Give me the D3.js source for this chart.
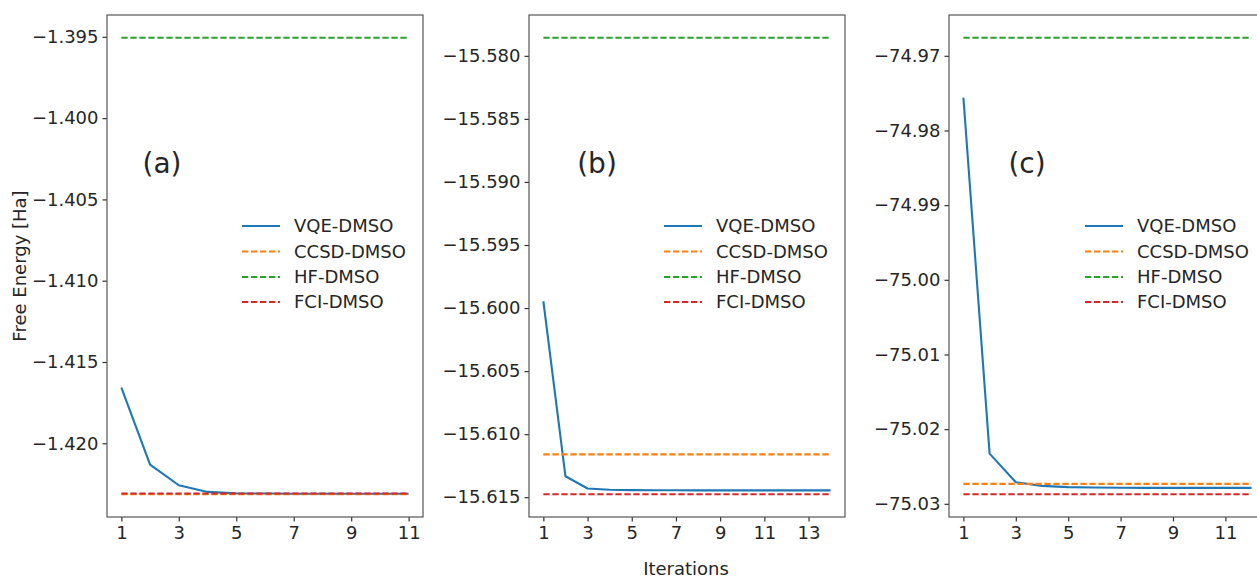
<!DOCTYPE html>
<html>
<head>
<meta charset="utf-8">
<script src="https://cdn.jsdelivr.net/npm/d3@7"></script>
<style>
  html, body { margin: 0; padding: 0; background: #fff; }
  svg { display: block; }
  text { font-family: "DejaVu Sans", sans-serif; fill: #262626; }
</style>
</head>
<body>
<svg id="chart" width="1257" height="578"></svg>
<script>
// ---------- data ----------
const seriesNames = ["VQE-DMSO", "CCSD-DMSO", "HF-DMSO", "FCI-DMSO"];
const seriesColors = ["#1f77b4", "#ff7f0e", "#2ca02c", "#d62728"];
const panelLabels = ["(a)", "(b)", "(c)"];

// panel (a)
const vqeA = [-1.41658, -1.42131, -1.42258, -1.42299, -1.42308, -1.42309, -1.42310, -1.42310, -1.42310, -1.42310, -1.42310];
const ccsdA = -1.42313;
const hfA = -1.39506;
const fciA = -1.42309;
const yTicksA = [-1.395, -1.400, -1.405, -1.410, -1.415, -1.420];
const xTicksA = [1, 3, 5, 7, 9, 11];

// panel (b)
const vqeB = [-15.59946, -15.61334, -15.61431, -15.61441, -15.61444, -15.61445, -15.61445, -15.61446, -15.61446, -15.61446, -15.61446, -15.61446, -15.61446, -15.61446];
const ccsdB = -15.61160;
const hfB = -15.57857;
const fciB = -15.61476;
const yTicksB = [-15.580, -15.585, -15.590, -15.595, -15.600, -15.605, -15.610, -15.615];
const xTicksB = [1, 3, 5, 7, 9, 11, 13];

// panel (c)
const vqeC = [-74.97561, -75.02328, -75.02711, -75.02760, -75.02777, -75.02782, -75.02785, -75.02786, -75.02786, -75.02786, -75.02786, -75.02786];
const ccsdC = -75.02733;
const hfC = -74.96759;
const fciC = -75.02871;
const yTicksC = [-74.97, -74.98, -74.99, -75.00, -75.01, -75.02, -75.03];
const xTicksC = [1, 3, 5, 7, 9, 11];

const xAxisTitle = "Iterations";
const yAxisTitle = "Free Energy [Ha]";

// ---------- layout ----------
const svg = d3.select("#chart");
const plotTop = 15, plotBottom = 517;
const fs = "18px";
const panels = [
  {left: 107, right: 423, vqe: vqeA, ccsd: ccsdA, hf: hfA, fci: fciA, yTicks: yTicksA, xTicks: xTicksA, fmt: ".3f", label: panelLabels[0], labelX: 162},
  {left: 529, right: 845, vqe: vqeB, ccsd: ccsdB, hf: hfB, fci: fciB, yTicks: yTicksB, xTicks: xTicksB, fmt: ".3f", label: panelLabels[1], labelX: 597},
  {left: 949, right: 1266, vqe: vqeC, ccsd: ccsdC, hf: hfC, fci: fciC, yTicks: yTicksC, xTicks: xTicksC, fmt: ".2f", label: panelLabels[2], labelX: 1027}
];

const minus = s => s.replace("-", "\u2212");

panels.forEach((p, pi) => {
  const n = p.vqe.length;
  const xr = (n - 1) * 0.05;
  const x = d3.scaleLinear().domain([1 - xr, n + xr]).range([p.left, p.right]);
  const all = p.vqe.concat([p.ccsd, p.hf, p.fci]);
  const lo = d3.min(all), hi = d3.max(all);
  const yr = (hi - lo) * 0.05;
  const y = d3.scaleLinear().domain([lo - yr, hi + yr]).range([plotBottom, plotTop]);

  const g = svg.append("g");

  const clipId = "clip" + pi;
  svg.append("clipPath").attr("id", clipId)
    .append("rect").attr("x", p.left).attr("y", plotTop).attr("width", p.right - p.left).attr("height", plotBottom - plotTop);

  const plot = g.append("g").attr("clip-path", `url(#${clipId})`);
  const iters = d3.range(1, n + 1);

  const line = d3.line().x(d => x(d[0])).y(d => y(d[1]));
  plot.append("path")
    .datum(iters.map((it, i) => [it, p.vqe[i]]))
    .attr("d", line).attr("fill", "none")
    .attr("stroke", seriesColors[0]).attr("stroke-width", 2.1)
    .attr("stroke-linejoin", "round");

  [p.ccsd, p.hf, p.fci].forEach((v, k) => {
    plot.append("path")
      .datum(iters.map(it => [it, v]))
      .attr("d", line).attr("fill", "none")
      .attr("stroke", seriesColors[k + 1]).attr("stroke-width", 2.1)
      .attr("stroke-dasharray", "6.3,2.7");
  });

  const yAxis = d3.axisLeft(y).tickValues(p.yTicks).tickSize(4.5).tickPadding(4)
    .tickFormat(d => minus(d3.format(p.fmt)(d)));
  const ya = g.append("g").attr("transform", `translate(${p.left},0)`).call(yAxis);
  ya.select(".domain").remove();
  ya.selectAll(".tick line").attr("stroke", "#333").attr("stroke-width", 1.2);
  ya.selectAll(".tick text").attr("font-size", fs).attr("fill", "#262626")
    .attr("font-family", "DejaVu Sans");

  const xAxis = d3.axisBottom(x).tickValues(p.xTicks).tickSize(4.5).tickPadding(5)
    .tickFormat(d3.format("d"));
  const xa = g.append("g").attr("transform", `translate(0,${plotBottom})`).call(xAxis);
  xa.select(".domain").remove();
  xa.selectAll(".tick line").attr("stroke", "#333").attr("stroke-width", 1.2);
  xa.selectAll(".tick text").attr("font-size", fs).attr("fill", "#262626")
    .attr("font-family", "DejaVu Sans");

  g.append("rect").attr("x", p.left).attr("y", plotTop)
    .attr("width", p.right - p.left).attr("height", plotBottom - plotTop)
    .attr("fill", "none").attr("stroke", "#555").attr("stroke-width", 1.2);

  g.append("text").attr("x", p.labelX).attr("y", 173)
    .attr("text-anchor", "middle").attr("font-size", "28px").text(p.label);

  const lx = p.right - 181;
  const rows = [226, 251.5, 277, 302];
  seriesNames.forEach((name, k) => {
    const lg = g.append("g");
    lg.append("line").attr("x1", lx).attr("x2", lx + 38)
      .attr("y1", rows[k]).attr("y2", rows[k])
      .attr("stroke", seriesColors[k]).attr("stroke-width", 2.1)
      .attr("stroke-dasharray", k === 0 ? null : "6.3,2.7");
    lg.append("text").attr("x", lx + 52).attr("y", rows[k]).attr("dy", "0.36em")
      .attr("font-size", fs).text(name);
  });
});

svg.append("text").attr("x", 686).attr("y", 575)
  .attr("text-anchor", "middle").attr("font-size", fs).text(xAxisTitle);
svg.append("text").attr("transform", "translate(26,266) rotate(-90)")
  .attr("text-anchor", "middle").attr("font-size", fs).text(yAxisTitle);
</script>
</body>
</html>
